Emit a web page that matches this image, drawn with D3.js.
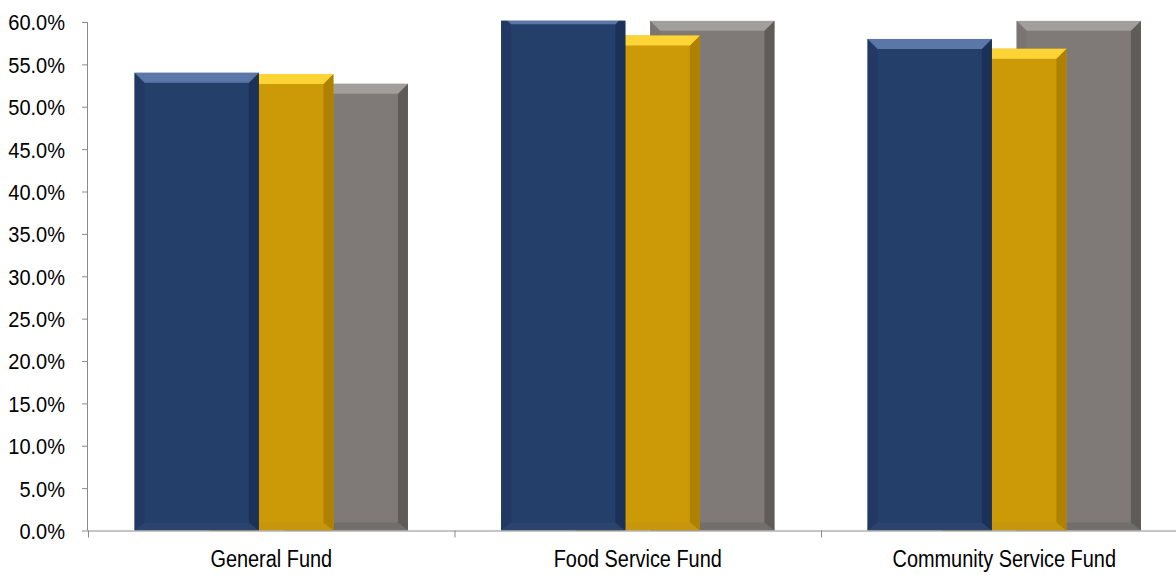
<!DOCTYPE html>
<html>
<head>
<meta charset="utf-8">
<script src="https://cdn.jsdelivr.net/npm/d3@7"></script>
<style>
  html, body { margin: 0; padding: 0; background: #ffffff; }
  svg { display: block; }
  .axis text { font-family: "Liberation Sans Narrow", "Arial Narrow", "Liberation Sans", Arial, sans-serif; fill: #000; }
</style>
</head>
<body>
<svg id="chart" width="1176" height="575"></svg>
<script>
// Fund categories and the three series (percent)
const categories = ["General Fund", "Food Service Fund", "Community Service Fund"];
const seriesBlue   = [54.0, 60.9, 58.0];
const seriesGold   = [53.85, 58.4, 56.85];
const seriesGray   = [52.7, 60.15, 60.15];
const yTickValues  = [0, 5, 10, 15, 20, 25, 30, 35, 40, 45, 50, 55, 60];

const series = [
  { key: "blue", values: seriesBlue, face: "#253f6b", top: "#5b77a7", left: "#223a63", right: "#1c3157", bottom: "#2b446d" },
  { key: "gold", values: seriesGold, face: "#cc9a06", top: "#fdd436", left: "#c99506", right: "#ae8200", bottom: "#c6960c" },
  { key: "gray", values: seriesGray, face: "#7f7a77", top: "#a29e9b", left: "#7a7572", right: "#5f5b59", bottom: "#726e6b" }
];

const svg = d3.select("#chart");
const W = 1176, H = 575;
const left = 88, yZero = 530.5, yTop = 22;
const bandW = 366.5;

const x = d3.scaleBand().domain(categories).range([left, left + bandW * categories.length]).padding(0);
const y = d3.scaleLinear().domain([0, 60]).range([yZero, yTop]);

// Excel-style layout: gap width 75%, series overlap 40%
const gapWidth = 0.75, overlap = 0.4, n = series.length;
const barW = x.bandwidth() / (1 + (n - 1) * (1 - overlap) + gapWidth);
const step = barW * (1 - overlap);
const groupW = barW + (n - 1) * step;

svg.append("defs").append("clipPath").attr("id", "plotClip")
  .append("rect").attr("x", left).attr("y", y(60) - 1.3).attr("width", W - left).attr("height", yZero - y(60) + 1.3);

const plot = svg.append("g").attr("clip-path", "url(#plotClip)");

const bev = 10;
function bevelBar(g, x0, x1, yT, yB, s) {
  const b = Math.min(bev, (x1 - x0) / 2, (yB - yT) / 2);
  const bb = 8;
  const poly = pts => pts.map(p => p.join(",")).join(" ");
  g.append("rect").attr("x", x0).attr("y", yT).attr("width", x1 - x0).attr("height", yB - yT).attr("fill", s.face);
  g.append("polygon").attr("points", poly([[x0, yT], [x0 + b, yT + b], [x0 + b, yB - bb], [x0, yB]])).attr("fill", s.left);
  g.append("polygon").attr("points", poly([[x0, yB], [x1, yB], [x1 - b, yB - bb], [x0 + b, yB - bb]])).attr("fill", s.bottom);
  g.append("polygon").attr("points", poly([[x1, yT], [x1, yB], [x1 - b, yB - bb], [x1 - b, yT + b]])).attr("fill", s.right);
  g.append("polygon").attr("points", poly([[x0, yT], [x1, yT], [x1 - b, yT + b], [x0 + b, yT + b]])).attr("fill", s.top);
}

// later series sit behind earlier ones, so draw them in reverse
categories.forEach((c, ci) => {
  const gx = x(c) + (x.bandwidth() - groupW) / 2;
  for (let si = n - 1; si >= 0; si--) {
    const s = series[si];
    const x0 = gx + si * step;
    const g = plot.append("g").attr("class", "bar " + s.key);
    bevelBar(g, x0, x0 + barW, y(s.values[ci]), y(0), s);
  }
});

// condensed lettering: squeeze each label horizontally about its anchor
function condense(sel, k) {
  sel.each(function () {
    const t = d3.select(this);
    const tx = +t.attr("x") || 0;
    t.attr("x", 0).attr("transform", `translate(${tx},0) scale(${k},1)`);
  });
}

// Axes
const axisColor = "#8a8a8a";
const yAxis = svg.append("g").attr("class", "axis")
  .attr("transform", `translate(${left},0)`)
  .call(d3.axisLeft(y).tickValues(yTickValues).tickSize(6).tickPadding(17).tickFormat(d => d.toFixed(1) + "%"));
yAxis.select(".domain").attr("stroke", axisColor).attr("d", `M-0.5,${yTop}V${yZero}`);
yAxis.selectAll(".tick line").attr("stroke", axisColor);
yAxis.selectAll("text").attr("font-size", 22).attr("dy", "0.36em").call(condense, 0.91);

const xAxis = svg.append("g").attr("class", "axis")
  .attr("transform", `translate(0,${yZero})`)
  .call(d3.axisBottom(x).tickSize(0).tickPadding(20));
xAxis.select(".domain").attr("stroke", axisColor).attr("d", `M${left},0.5H${W}`);
xAxis.selectAll("text").attr("font-size", 23).attr("dy", "0.71em").call(condense, 0.866);

// category boundary ticks
const bounds = categories.map(c => x(c));
xAxis.selectAll(".bound").data(bounds).enter().append("line")
  .attr("class", "bound").attr("x1", d => d + 0.5).attr("x2", d => d + 0.5)
  .attr("y1", 0).attr("y2", 7).attr("stroke", axisColor);
</script>
</body>
</html>
